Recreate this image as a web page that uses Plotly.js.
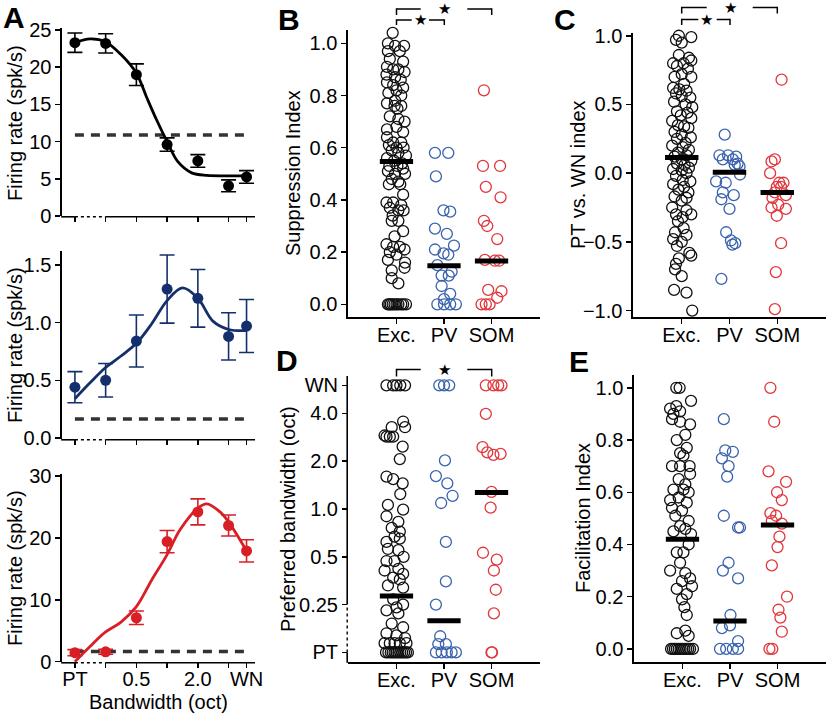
<!DOCTYPE html>
<html><head><meta charset="utf-8">
<script src="https://cdn.plot.ly/plotly-3.0.1.min.js"></script>
<style>html,body{margin:0;padding:0;background:#fff}#chart{width:828px;height:717px}</style>
</head><body><div id="chart"></div>
<script>
// ---------------- DATA ----------------
const groupLabels = ['Exc.', 'PV', 'SOM'];
const bwTicks = ['PT', 0.25, 0.5, 1, 2, 4, 'WN'];
const bwTickText = ['PT', '0.25', '0.5', '1.0', '2.0', '4.0', 'WN'];
const aTickTextBottom = ['PT', '', '0.5', '', '2.0', '', 'WN'];

// Panel A: tuning to bandwidth
const aBandwidths = ['PT', 0.25, 0.5, 1, 2, 4, 'WN'];
const aExcRate = [23.3, 23.2, 19.0, 9.6, 7.4, 4.05, 5.25];
const aExcErr  = [1.3, 1.3, 1.45, 0.9, 0.85, 0.8, 0.85];
const aExcSpont = 10.9;
const aPvRate = [0.44, 0.50, 0.84, 1.29, 1.21, 0.88, 0.97];
const aPvErr  = [0.135, 0.145, 0.225, 0.295, 0.25, 0.205, 0.23];
const aPvSpont = 0.165;
const aSomRate = [1.45, 1.6, 7.1, 19.4, 24.2, 22.0, 17.9];
const aSomErr  = [0.5, 0.4, 1.1, 1.8, 2.1, 1.7, 1.8];
const aSomSpont = 1.65;
// fitted curves (x in log2-octave axis units, PT = -3)
const aExcFitX = [-3, -2.5, -2, -1.5, -1, -0.67, -0.34, 0, 0.35, 0.8, 1.3, 2, 2.585];
const aExcFitY = [23.3, 23.8, 23.4, 21.7, 19.2, 16.0, 12.9, 10.0, 7.3, 5.8, 5.45, 5.4, 5.4];
const aPvFitX = [-3, -2.5, -2, -1.5, -1, -0.5, 0, 0.5, 1, 1.5, 2, 2.585];
const aPvFitY = [0.34, 0.48, 0.61, 0.71, 0.82, 0.99, 1.19, 1.30, 1.21, 1.01, 0.94, 0.93];
const aSomFitX = [-3, -2.5, -2, -1.5, -1, -0.5, 0, 0.42, 1, 1.29, 1.72, 2, 2.37, 2.585];
const aSomFitY = [0, 2.5, 4.8, 6.4, 8.9, 13.2, 17.3, 21.3, 24.8, 25.5, 24.2, 22.6, 19.7, 17.9];

// Panel B: suppression index
const bExcY = [1.04,1.00,0.99,0.99,0.97,0.97,0.94,0.93,0.91,0.90,0.90,0.89,0.88,0.87,0.86,0.85,0.84,0.83,0.82,0.81,0.80,0.78,0.77,0.76,0.76,0.75,0.72,0.71,0.70,0.67,0.68,0.66,0.64,0.62,0.62,0.61,0.60,0.60,0.59,0.58,0.57,0.56,0.55,0.54,0.53,0.53,0.52,0.51,0.50,0.50,0.48,0.47,0.46,0.46,0.42,0.39,0.39,0.38,0.37,0.36,0.36,0.34,0.32,0.32,0.28,0.26,0.23,0.22,0.22,0.21,0.20,0.19,0.17,0.16,0.14,0.13,0.10,0.08,0,0,0,0,0,0,0,0,0,0];
const bExcJ = [-0.08,-0.18,0.16,-0.03,-0.18,0.07,-0.14,0.14,-0.2,-0.07,0.04,0.17,-0.21,-0.03,0.09,-0.2,-0.07,0.14,0.0,-0.17,0.1,-0.03,-0.2,-0.04,0.1,0.02,-0.14,0.04,0.17,-0.2,0.0,0.14,-0.2,-0.07,0.1,-0.16,0.0,0.15,-0.1,0.04,0.2,-0.2,-0.05,0.12,-0.15,0.02,0.14,-0.18,-0.03,0.18,-0.1,0.04,-0.16,0.08,0.14,-0.21,-0.07,0.1,-0.14,0.04,0.15,-0.08,-0.1,0.04,0.14,-0.04,-0.21,-0.07,0.07,0.17,-0.14,0.0,-0.18,0.18,0.17,-0.1,-0.1,0.04,-0.18,-0.12,-0.08,-0.04,0,0.04,0.1,0.14,0.2,-0.15];
const bPvY = [0.58,0.58,0.49,0.36,0.355,0.29,0.27,0.225,0.21,0.195,0.19,0.15,0.125,0.11,0.11,0.07,0.04,0.02,0,0,0,0];
const bPvJ = [-0.19,0.09,-0.17,-0.01,0.13,-0.19,0.06,0.21,-0.19,-0.01,0.09,-0.14,0.16,-0.05,0.1,-0.05,0.13,0.0,-0.14,0.0,0.13,0.25];
const bSomY = [0.82,0.53,0.53,0.45,0.41,0.32,0.30,0.25,0.17,0.167,0.167,0.055,0.05,0.025,0,0,0];
const bSomJ = [-0.16,-0.18,0.18,-0.12,0.19,-0.16,-0.09,0.12,-0.14,0.07,0.16,-0.07,0.21,0.12,-0.21,-0.12,-0.04];
const bMeans = [0.547, 0.148, 0.166];

// Panel C: PT vs. WN index
const cExcY = [1.0,0.99,0.97,0.95,0.86,0.84,0.8,0.8,0.82,0.78,0.76,0.72,0.7,0.7,0.65,0.62,0.61,0.6,0.58,0.56,0.55,0.52,0.5,0.48,0.45,0.44,0.42,0.4,0.38,0.35,0.34,0.33,0.3,0.28,0.26,0.25,0.22,0.2,0.19,0.17,0.15,0.13,0.12,0.1,0.09,0.07,0.06,0.04,0.03,0.02,0.0,-0.02,-0.05,-0.06,-0.08,-0.1,-0.12,-0.14,-0.17,-0.18,-0.2,-0.25,-0.27,-0.3,-0.3,-0.32,-0.35,-0.4,-0.43,-0.45,-0.48,-0.5,-0.53,-0.58,-0.6,-0.62,-0.66,-0.7,-0.75,-0.85,-0.87,-1.0];
const cExcJ = [-0.06,0.2,-0.12,0.0,-0.06,0.15,-0.18,0.04,0.2,-0.1,0.13,0.0,0.2,-0.15,0.05,-0.18,-0.05,0.1,-0.12,0.0,0.18,-0.16,0.08,0.22,-0.1,0.12,-0.02,0.2,-0.2,-0.08,0.05,0.14,-0.15,0.0,0.19,-0.1,0.08,-0.2,0.02,0.15,-0.08,0.1,-0.15,0.0,0.2,-0.1,0.06,0.15,-0.18,0.0,0.1,-0.12,0.02,0.18,-0.18,0.05,-0.07,0.14,-0.15,0.1,0.0,-0.2,0.1,-0.12,0.2,0.02,-0.08,0.04,-0.14,0.1,-0.18,0.0,-0.1,0.16,0.2,-0.06,-0.12,-0.14,0.0,-0.16,0.1,0.22];
const cPvY = [0.28,0.13,0.13,0.12,0.1,0.1,0.07,0.05,0.06,-0.01,-0.06,-0.07,-0.14,-0.19,-0.16,-0.26,-0.43,-0.49,-0.51,-0.52,-0.77];
const cPvJ = [-0.1,-0.21,-0.03,0.14,-0.14,0.07,0.17,0.21,0.11,0.22,-0.28,-0.08,-0.14,-0.17,0.09,0.0,-0.07,0.03,0.12,0.06,-0.17];
const cSomY = [0.68,0.1,0.085,0.0,-0.07,-0.07,-0.1,-0.1,-0.14,-0.18,-0.16,-0.25,-0.23,-0.26,-0.31,-0.51,-0.72,-0.99];
const cSomJ = [0.09,-0.05,-0.12,-0.15,0.04,0.13,0.08,-0.01,-0.05,-0.1,0.18,-0.12,0.02,0.18,-0.01,0.08,-0.03,-0.05];
const cMeans = [0.114, 0.007, -0.14];

// Panel D: preferred bandwidth (oct)
const dExcY = ['WN','WN','WN','WN','WN',3.55,3.27,3.27,2.85,2.85,2.85,2.9,2.47,2.06,1.6,1.54,1.45,1.24,1.06,0.99,0.9,0.83,0.76,0.72,0.67,0.65,0.62,0.56,0.55,0.5,0.47,0.47,0.42,0.41,0.39,0.37,0.36,0.33,0.32,0.27,0.25,0.24,0.23,0.22,0.19,0.18,0.165,0.16,0.154,0.143,0.143,0.143,0.143,0.143,'PT','PT','PT','PT','PT','PT','PT','PT','PT','PT','PT','PT'];
const dExcJ = [-0.21,-0.07,0,0.08,0.18,0.14,-0.1,0.18,-0.21,-0.14,-0.07,-0.25,0.13,0.07,-0.21,-0.07,0.13,0.08,-0.18,0.14,-0.21,0.04,-0.1,0.07,-0.04,0.07,-0.21,-0.18,0.04,0.15,-0.21,-0.04,0.04,-0.25,0.14,-0.07,0.07,-0.18,0.14,-0.07,0.14,0.0,-0.21,0.04,-0.1,0.14,-0.21,0.0,0.18,-0.25,-0.14,-0.04,0.07,0.21,-0.22,-0.17,-0.12,-0.08,-0.04,0,0.04,0.08,0.12,0.16,0.2,0.24];
const dPvY = ['WN','WN','WN',2.02,1.61,1.45,1.21,1.09,0.62,0.35,0.25,0.158,0.141,0.141,'PT','PT','PT','PT','PT'];
const dPvJ = [-0.1,0,0.11,0.02,-0.17,0.07,0.18,-0.06,0.04,0.04,-0.17,-0.08,-0.12,0.04,-0.17,-0.05,0.06,0.16,0.25];
const dSomY = ['WN','WN','WN','WN',3.97,2.45,2.27,2.19,2.22,1.28,1.02,0.53,0.48,0.41,0.31,0.22,'PT','PT'];
const dSomJ = [-0.12,0.04,0.14,0.21,-0.12,-0.19,-0.09,0.04,0.19,0,-0.02,-0.18,0.11,0.05,0.09,0.05,0,0.01];
const dMeans = [0.283, 0.198, 1.27];

// Panel E: facilitation index
const eExcY = [1.0,1.0,0.95,0.92,0.93,0.9,0.91,0.88,0.87,0.86,0.82,0.8,0.77,0.75,0.70,0.70,0.70,0.74,0.67,0.65,0.63,0.61,0.61,0.6,0.57,0.58,0.56,0.54,0.53,0.51,0.49,0.47,0.46,0.45,0.44,0.40,0.37,0.37,0.33,0.30,0.29,0.27,0.26,0.23,0.24,0.21,0.19,0.16,0.13,0.06,0.07,0.05,0,0,0,0,0,0,0,0,0,0,0,0];
const eExcJ = [-0.13,-0.06,0.18,-0.26,-0.13,-0.19,-0.05,-0.22,-0.05,0.16,0.06,-0.12,0.09,-0.05,-0.22,-0.05,0.15,0.02,0.16,-0.08,0.06,-0.19,0.02,0.13,-0.26,-0.08,0.09,-0.22,-0.01,-0.15,0.13,-0.05,0.06,-0.19,0.18,0.13,-0.12,0.02,-0.05,-0.26,0.06,0.16,-0.01,-0.12,0.2,0.09,-0.01,0.04,0.09,-0.12,0.06,0.13,-0.24,-0.2,-0.16,-0.12,-0.08,-0.04,0,0.04,0.08,0.12,0.16,0.22];
const ePvY = [0.88,0.76,0.755,0.73,0.70,0.66,0.51,0.465,0.465,0.33,0.30,0.27,0.13,0.08,0.09,0.03,0,0,0,0];
const ePvJ = [-0.13,-0.1,0.06,-0.17,-0.03,-0.06,-0.13,0.17,0.21,-0.03,-0.15,0.17,0.01,-0.17,0,0.17,-0.21,-0.08,0.06,0.17];
const eSomY = [1.0,0.87,0.68,0.64,0.60,0.57,0.52,0.51,0.48,0.49,0.43,0.39,0.32,0.2,0.15,0.12,0.066,0,0];
const eSomJ = [-0.15,-0.07,-0.19,0.18,-0.01,0.09,-0.15,-0.03,0.09,-0.12,0.04,0,-0.12,0.2,0.02,0.06,0.09,-0.17,-0.11];
const eMeans = [0.42, 0.107, 0.475];

// ---------------- STYLE / GEOMETRY ----------------
const W = 828, H = 717;
const FONT = 'Liberation Sans, Arial, Helvetica, sans-serif';
const FS = 20;
const colExc = '#111111', colPv = '#3a63ad', colSom = '#e0363c';
const colANavy = '#14306c', colARed = '#d81f26';

function bwPos(b) { if (b === 'PT') return -3; if (b === 'WN') return Math.log2(6); return Math.log2(b); }
const px = x => x / W, py = y => 1 - y / H;

const P = {
  a1: {id: '',  dx: [62, 255],  dy: [28, 216],  xr: [-3.42, 2.86], yr: [0, 25.27]},
  a2: {id: '2', dx: [62, 255],  dy: [251, 439], xr: [-3.42, 2.86], yr: [-0.009, 1.62]},
  a3: {id: '3', dx: [62, 255],  dy: [474, 662], xr: [-3.42, 2.86], yr: [-0.05, 30.32]},
  b:  {id: '4', dx: [348, 540], dy: [30, 317],  xr: [-1.02, 3.02], yr: [-0.0487, 1.051]},
  c:  {id: '5', dx: [633, 826], dy: [33, 317],  xr: [-1.02, 3.02], yr: [-1.047, 1.02]},
  d:  {id: '6', dx: [348, 540], dy: [376, 662], xr: [-1.02, 3.02], yr: [-3.2, 2.78]},
  e:  {id: '7', dx: [634, 826], dy: [375, 662], xr: [-1.02, 3.02], yr: [-0.05, 1.049]}
};
function xPx(p, v) { return p.dx[0] + (v - p.xr[0]) / (p.xr[1] - p.xr[0]) * (p.dx[1] - p.dx[0]); }
function yPx(p, v) { return p.dy[1] - (v - p.yr[0]) / (p.yr[1] - p.yr[0]) * (p.dy[1] - p.dy[0]); }

const baseAxis = {
  showline: true, linecolor: '#000', linewidth: 1.6, ticks: 'outside', ticklen: 5, tickwidth: 1.5,
  tickcolor: '#000', showgrid: false, zeroline: false, fixedrange: true,
  tickfont: {family: FONT, size: FS, color: '#000'}
};

const layout = {
  width: W, height: H, margin: {l: 0, r: 0, t: 0, b: 0}, showlegend: false,
  paper_bgcolor: '#fff', plot_bgcolor: 'rgba(0,0,0,0)', font: {family: FONT, color: '#000'},
  shapes: [], annotations: []
};

function setAxes(p, xopt, yopt) {
  const xa = 'xaxis' + p.id, ya = 'yaxis' + p.id;
  layout[xa] = Object.assign({}, baseAxis, {domain: [px(p.dx[0]), px(p.dx[1])], range: p.xr,
    anchor: 'y' + p.id, ticklabelstandoff: -6}, xopt);
  layout[ya] = Object.assign({}, baseAxis, {domain: [py(p.dy[1]), py(p.dy[0])], range: p.yr,
    anchor: 'x' + p.id}, yopt);
}

// Panel A axes
const aTickVals = bwTicks.map(bwPos);
['a1', 'a2', 'a3'].forEach((k, i) => {
  setAxes(P[k], {showline: false, tickmode: 'array', tickvals: aTickVals,
    ticktext: i === 2 ? aTickTextBottom : aTickVals.map(() => '')}, {});
});
layout.yaxis.tickvals = [0, 5, 10, 15, 20, 25];
layout.yaxis2.tickvals = [0, 0.5, 1, 1.5]; layout.yaxis2.tickformat = '.1f';
layout.yaxis3.tickvals = [0, 10, 20, 30];
// B-E axes
const catAxis = {tickmode: 'array', tickvals: [0, 1, 2], ticktext: groupLabels};
setAxes(P.b, catAxis, {tickvals: [0, 0.2, 0.4, 0.6, 0.8, 1.0], tickformat: '.1f'});
setAxes(P.c, catAxis, {tickvals: [-1, -0.5, 0, 0.5, 1.0], tickformat: '.1f'});
setAxes(P.d, catAxis, {showline: false, tickmode: 'array', tickvals: bwTicks.map(bwPos), ticktext: bwTickText});
setAxes(P.e, catAxis, {tickvals: [0, 0.2, 0.4, 0.6, 0.8, 1.0], tickformat: '.1f'});

// broken axis lines (solid / dotted / solid)
function lineShape(x0, y0, x1, y1, dash, w) {
  layout.shapes.push({type: 'line', xref: 'paper', yref: 'paper', x0: px(x0), y0: py(y0), x1: px(x1), y1: py(y1),
    line: {color: '#000', width: w || 1.6, dash: dash || 'solid'}});
}
['a1', 'a2', 'a3'].forEach(k => {
  const p = P[k], yb = p.dy[1] + 0.8;
  const xPT = xPx(p, bwPos('PT')), xQ = xPx(p, bwPos(0.25));
  lineShape(p.dx[0] - 0.8, yb, xPT, yb);
  lineShape(xPT, yb, xQ, yb, 'dot', 1.4);
  lineShape(xQ, yb, p.dx[1], yb);
});
(function () {
  const p = P.d, xl = p.dx[0] - 0.8;
  const yPT = yPx(p, bwPos('PT')), yQ = yPx(p, bwPos(0.25));
  lineShape(xl, p.dy[1] + 0.8, xl, yPT);
  lineShape(xl, yPT, xl, yQ, 'dot', 1.4);
  lineShape(xl, yQ, xl, p.dy[0]);
})();

// ---------------- TRACES ----------------
const traces = [];
function axRefs(p) { return {xaxis: 'x' + p.id, yaxis: 'y' + p.id}; }

function tuningPanel(p, rates, errs, spont, fitX, fitY, color) {
  const xs = aBandwidths.map(bwPos);
  traces.push(Object.assign({type: 'scatter', mode: 'lines', x: [bwPos('PT'), bwPos('WN')], y: [spont, spont],
    line: {color: '#333', width: 3.5, dash: '9px,7px'}, cliponaxis: false}, axRefs(p)));
  traces.push(Object.assign({type: 'scatter', mode: 'lines', x: fitX, y: fitY,
    line: {color: color, width: 2.8, shape: 'spline', smoothing: 1}, cliponaxis: false}, axRefs(p)));
  traces.push(Object.assign({type: 'scatter', mode: 'markers', x: xs, y: rates,
    marker: {color: color, size: 11},
    error_y: {type: 'data', array: errs, visible: true, color: color, thickness: 1.6, width: 7.5},
    cliponaxis: false}, axRefs(p)));
}
tuningPanel(P.a1, aExcRate, aExcErr, aExcSpont, aExcFitX, aExcFitY, '#000');
tuningPanel(P.a2, aPvRate, aPvErr, aPvSpont, aPvFitX, aPvFitY, colANavy);
tuningPanel(P.a3, aSomRate, aSomErr, aSomSpont, aSomFitX, aSomFitY, colARed);

function dots(p, cat, vals, jit, color, mapY) {
  const n = Math.min(vals.length, jit.length);
  traces.push(Object.assign({type: 'scatter', mode: 'markers',
    x: jit.slice(0, n).map(j => cat + j), y: vals.slice(0, n).map(v => mapY ? mapY(v) : v),
    marker: {symbol: 'circle-open', size: 11, color: color, line: {width: 1.3}},
    cliponaxis: false}, axRefs(p)));
}
function meanBars(p, means, mapY) {
  means.forEach((m, i) => {
    const y = mapY ? mapY(m) : m;
    traces.push(Object.assign({type: 'scatter', mode: 'lines', x: [i - 0.35, i + 0.35], y: [y, y],
      line: {color: '#000', width: 5}, cliponaxis: false}, axRefs(p)));
  });
}
dots(P.b, 0, bExcY, bExcJ, colExc); dots(P.b, 1, bPvY, bPvJ, colPv); dots(P.b, 2, bSomY, bSomJ, colSom); meanBars(P.b, bMeans);
dots(P.c, 0, cExcY, cExcJ, colExc); dots(P.c, 1, cPvY, cPvJ, colPv); dots(P.c, 2, cSomY, cSomJ, colSom); meanBars(P.c, cMeans);
dots(P.d, 0, dExcY, dExcJ, colExc, bwPos); dots(P.d, 1, dPvY, dPvJ, colPv, bwPos); dots(P.d, 2, dSomY, dSomJ, colSom, bwPos); meanBars(P.d, dMeans, bwPos);
dots(P.e, 0, eExcY, eExcJ, colExc); dots(P.e, 1, ePvY, ePvJ, colPv); dots(P.e, 2, eSomY, eSomJ, colSom); meanBars(P.e, eMeans);

// ---------------- ANNOTATIONS ----------------
function text(t, x, y, opt) {
  layout.annotations.push(Object.assign({text: t, xref: 'paper', yref: 'paper', x: px(x), y: py(y),
    showarrow: false, xanchor: 'center', yanchor: 'middle', font: {family: FONT, size: FS, color: '#000'}}, opt || {}));
}
const ylab = {textangle: -90};
text('Firing rate (spk/s)', 15, 123, ylab);
text('Firing rate (spk/s)', 15, 345, ylab);
text('Firing rate (spk/s)', 15, 568, ylab);
text('Bandwidth (oct)', 158, 702);
text('Suppression Index', 293, 173, ylab);
text('PT vs. WN index', 578, 175, ylab);
text('Preferred bandwidth (oct)', 288, 519, ylab);
text('Facilitation Index', 583, 518, ylab);
const letterFont = {family: FONT, size: 30, color: '#000', weight: 'bold'};
[['A', 1, 18], ['B', 276, 19], ['C', 552, 19], ['D', 274, 360], ['E', 567, 361]].forEach(l =>
  text('<b>' + l[0] + '</b>', l[1], l[2], {xanchor: 'left', font: letterFont}));

// significance brackets
function bracket(xa, xb, y, gapA, gapB, tickDown) {
  lineShape(xa, y, gapA, y, 'solid', 1.5);
  lineShape(gapB, y, xb, y, 'solid', 1.5);
  lineShape(xa, y - 0.7, xa, y + tickDown, 'solid', 1.5);
  lineShape(xb, y - 0.7, xb, y + tickDown, 'solid', 1.5);
}
function star(x, y) { text('★', x, y, {font: {family: 'DejaVu Sans', size: 15, color: '#000'}}); }
// B
bracket(396.5, 491.7, 9, 420.7, 467.3, 6); star(444, 9);
bracket(396.5, 444.3, 20, 411.7, 429, 5); star(420, 20);
// C
bracket(681.7, 777.3, 7.5, 706.7, 752.7, 6); star(730, 8.5);
bracket(681.7, 730, 19.5, 698.3, 716.7, 5.5); star(706, 19.5);
// D
bracket(396.5, 491.7, 369.5, 420.7, 467.3, 7); star(444, 370);

Plotly.newPlot('chart', traces, layout, {staticPlot: true, displayModeBar: false});
</script></body></html>
